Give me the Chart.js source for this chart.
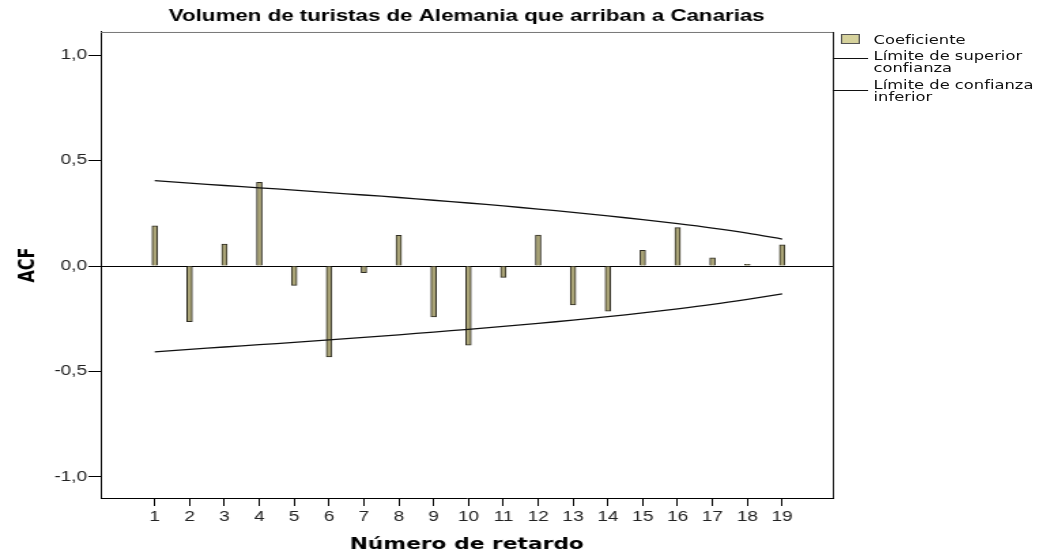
<!DOCTYPE html>
<html lang="es">
<head>
<meta charset="utf-8">
<title>ACF turistas Alemania</title>
<script src="https://cdn.jsdelivr.net/npm/chart.js@4.4.1/dist/chart.umd.min.js"></script>
<style>
  html, body { margin: 0; padding: 0; background: #fff; overflow: hidden; }
  /* el gráfico original está estirado en horizontal */
  #wrap { position: relative; width: 768px; height: 556px; transform: scaleX(1.36068); transform-origin: 0 0; }
  #acfChart { position: absolute; left: 0; top: 0; width: 768px; height: 556px; }
  .leg { position: absolute; font-family: "DejaVu Sans", sans-serif; font-size: 12px; line-height: 12.3px; color: #111; white-space: nowrap; }
  .swatch { position: absolute; left: 618px; top: 34px; width: 12px; height: 8px; background: #d6d29c; border: 1px solid #555; }
  .legLine { position: absolute; left: 612px; width: 26px; height: 0; border-top: 1px solid #111; }
</style>
</head>
<body>
<div id="wrap">
  <canvas id="acfChart" width="768" height="556"></canvas>
  <div class="swatch"></div>
  <div class="leg" style="left:642px;top:34px;">Coeficiente</div>
  <div class="legLine" style="top:58px;"></div>
  <div class="leg" style="left:642px;top:50px;">Límite de superior<br>confianza</div>
  <div class="legLine" style="top:90px;"></div>
  <div class="leg" style="left:642px;top:79px;">Límite de confianza<br>inferior</div>
</div>
<script>
// Datos
const lags = [1, 2, 3, 4, 5, 6, 7, 8, 9, 10, 11, 12, 13, 14, 15, 16, 17, 18, 19];
const acf = [0.191, -0.264, 0.104, 0.397, -0.092, -0.431, -0.032, 0.146, -0.241, -0.375,
             -0.054, 0.147, -0.184, -0.214, 0.075, 0.182, 0.039, 0.008, 0.101];
const limiteSuperior = [0.405, 0.393, 0.382, 0.371, 0.360, 0.348, 0.337, 0.325, 0.312, 0.299,
                        0.285, 0.270, 0.255, 0.238, 0.220, 0.201, 0.180, 0.156, 0.128];
const limiteInferior = [-0.407, -0.395, -0.384, -0.373, -0.362, -0.350, -0.338, -0.326, -0.313, -0.300,
                        -0.286, -0.272, -0.256, -0.240, -0.222, -0.203, -0.182, -0.158, -0.132];
const yTicks = [-1, -0.5, 0, 0.5, 1];
const yTickLabels = ["-1,0", "-0,5", "0,0", "0,5", "1,0"];

const toPoints = vals => lags.map((l, i) => ({ x: l, y: vals[i] }));

// Marco completo del área de trazado (arriba y derecha)
const marco = {
  id: "marco",
  afterDraw(chart) {
    const { ctx, chartArea: a } = chart;
    ctx.save();
    ctx.lineWidth = 1;
    ctx.strokeStyle = "#777";
    ctx.beginPath();
    ctx.moveTo(a.left, a.top + 0.5);
    ctx.lineTo(a.right, a.top + 0.5);
    ctx.stroke();
    ctx.strokeStyle = "#222";
    ctx.beginPath();
    ctx.moveTo(a.right + 0.5, a.top);
    ctx.lineTo(a.right + 0.5, a.bottom);
    ctx.stroke();
    ctx.restore();
  }
};

new Chart(document.getElementById("acfChart"), {
  type: "bar",
  data: {
    datasets: [
      {
        label: "Coeficiente",
        data: toPoints(acf),
        backgroundColor: "#aaa477",
        borderColor: "#2e2c22",
        borderWidth: 1,
        barThickness: 4,
        order: 2
      },
      {
        type: "line",
        label: "Límite de superior confianza",
        data: toPoints(limiteSuperior),
        borderColor: "#111",
        borderWidth: 1.3,
        pointRadius: 0,
        tension: 0.3,
        fill: false,
        order: 1
      },
      {
        type: "line",
        label: "Límite de confianza inferior",
        data: toPoints(limiteInferior),
        borderColor: "#111",
        borderWidth: 1.3,
        pointRadius: 0,
        tension: 0.3,
        fill: false,
        order: 1
      }
    ]
  },
  options: {
    responsive: false,
    animation: false,
    layout: { padding: { left: 0, right: 156, top: 0, bottom: 0 } },
    plugins: {
      legend: { display: false },
      tooltip: { enabled: false },
      title: {
        display: true,
        fullSize: false,
        text: "Volumen de turistas de Alemania que arriban a Canarias",
        color: "#000",
        font: { family: "'Liberation Sans', Arial, sans-serif", size: 16.4, weight: "bold" },
        padding: { top: 7, bottom: 5.3 }
      }
    },
    scales: {
      x: {
        type: "linear",
        min: -0.55,
        max: 20.45,
        offset: false,
        afterBuildTicks: scale => { scale.ticks = lags.map(v => ({ value: v })); },
        afterFit: scale => { scale.height = 58; },
        ticks: {
          autoSkip: false,
          maxRotation: 0,
          padding: 3,
          color: "#222",
          font: { family: "'Liberation Sans', Arial, sans-serif", size: 14 },
          callback: v => String(v)
        },
        grid: { drawOnChartArea: false, tickLength: 8, tickColor: "#000", offset: false },
        border: { display: true, color: "#000", width: 1 },
        title: {
          display: true,
          text: "Número de retardo",
          color: "#000",
          font: { family: "'DejaVu Sans', sans-serif", size: 16, weight: "bold" },
          padding: { top: 0, bottom: 1.5 }
        }
      },
      y: {
        min: -1.1,
        max: 1.11,
        afterBuildTicks: scale => { scale.ticks = yTicks.map(v => ({ value: v })); },
        afterFit: scale => { scale.width = 74; },
        ticks: {
          padding: 1,
          color: "#222",
          font: { family: "'Liberation Sans', Arial, sans-serif", size: 14 },
          callback: (v, i) => yTickLabels[i]
        },
        grid: {
          color: ctx => (ctx.tick && ctx.tick.value === 0 ? "#000" : "rgba(0,0,0,0)"),
          tickColor: "#000",
          tickLength: 9,
          lineWidth: 1
        },
        border: { display: true, color: "#000", width: 1 },
        title: {
          display: true,
          text: "ACF",
          color: "#000",
          font: { family: "'DejaVu Sans', sans-serif", size: 16, weight: "bold" },
          padding: { top: 11, bottom: 0 }
        }
      }
    }
  },
  plugins: [marco]
});
</script>
</body>
</html>
